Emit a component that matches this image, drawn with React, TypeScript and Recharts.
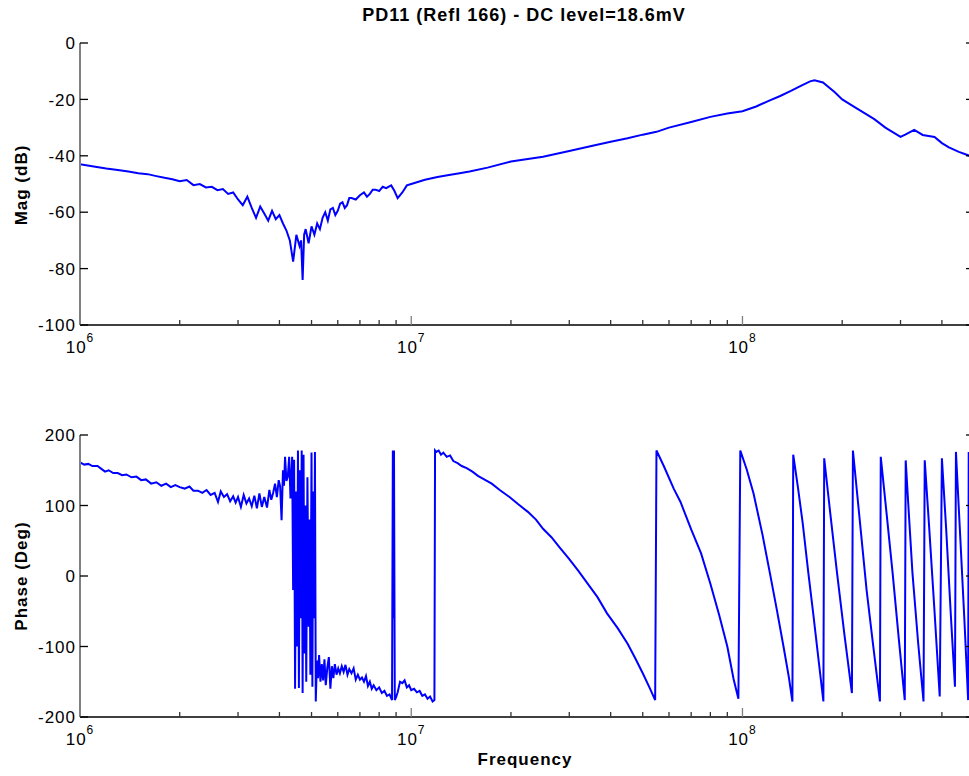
import React from 'react';
import { LineChart, Line, XAxis, YAxis } from 'recharts';

const FONT = '"Liberation Sans", Arial, Helvetica, sans-serif';

// magnitude trace (frequency in MHz, level in dB)
const magFreqMHz = [
  1.0, 1.1, 1.2, 1.3, 1.4, 1.5, 1.6, 1.7, 1.8, 1.9, 2.0, 2.1, 2.2, 2.3, 2.4, 2.5, 2.6, 2.7, 2.8, 2.9,
  3.0, 3.1, 3.2, 3.3, 3.4, 3.5, 3.6, 3.7, 3.8, 3.9, 4.0, 4.1, 4.2, 4.3, 4.4, 4.5, 4.6, 4.65, 4.7, 4.75,
  4.8, 4.9, 5.0, 5.1, 5.2, 5.3, 5.4, 5.5, 5.6, 5.7, 5.8, 5.9, 6.0, 6.1, 6.2, 6.3, 6.4, 6.5, 6.6, 6.8,
  7.0, 7.2, 7.35, 7.5, 7.65, 7.8, 8.0, 8.2, 8.4, 8.7, 8.9, 9.1, 9.4, 9.7, 10, 11, 12, 13, 14, 15,
  17, 20, 25, 30, 35, 40, 45, 50, 55, 60, 70, 80, 90, 100, 110, 120, 130, 140, 150, 160,
  165, 175, 190, 200, 220, 250, 270, 300, 310, 330, 350, 380, 400, 420, 450, 480, 500,
];
const magDb = [
  -43.0, -43.8, -44.5, -45.0, -45.6, -46.2, -46.5, -47.2, -47.8, -48.3, -49.0, -48.6, -50.4, -50.0, -51.2, -51.0, -52.2, -51.8, -53.5, -53.0,
  -55.5, -57.5, -54.5, -58.5, -62.0, -58.0, -60.5, -63.0, -59.5, -62.5, -61.0, -64.0, -66.5, -70.0, -77.5, -68.0, -72.0, -70.0, -84.0, -68.0,
  -66.0, -71.0, -65.0, -68.0, -64.0, -66.0, -62.0, -60.0, -63.0, -59.0, -58.5, -61.0, -59.5, -57.0, -56.5, -58.5, -57.5, -55.0, -55.0, -55.5,
  -54.0, -53.0, -54.5, -53.5, -52.0, -52.0, -52.5, -51.0, -51.5, -50.5, -52.5, -55.0, -53.0, -50.5, -50.0, -48.5, -47.5, -46.8, -46.2, -45.6,
  -44.2, -42.0, -40.3, -38.3, -36.5, -35.0, -33.8, -32.5, -31.5, -30.0, -28.0, -26.2, -25.0, -24.2, -22.5, -20.5, -18.8, -17.0, -15.2, -13.6,
  -13.2, -14.0, -17.5, -20.0, -23.0, -27.0, -30.0, -33.3, -32.5, -30.8, -32.6, -33.3, -35.5, -37.0, -38.6, -39.8, -41.0,
];

// phase trace (frequency in MHz, phase in degrees)
const phaseFreqMHz = [
  1.0, 1.03, 1.06, 1.09, 1.13, 1.16, 1.19, 1.22, 1.26, 1.3, 1.34, 1.38, 1.43, 1.48, 1.53, 1.58, 1.64, 1.7, 1.76, 1.82,
  1.88, 1.94, 2.0, 2.07, 2.14, 2.2, 2.27, 2.34, 2.41, 2.48, 2.55, 2.61, 2.66, 2.72, 2.78, 2.84, 2.9, 2.95, 3.0, 3.06,
  3.12, 3.18, 3.24, 3.3, 3.36, 3.42, 3.48, 3.54, 3.6, 3.67, 3.73, 3.78, 3.83, 3.88, 3.93, 3.98, 4.02, 4.06, 4.1, 4.13,
  4.16, 4.2, 4.24, 4.28, 4.32, 4.37, 4.4, 4.43, 4.46, 4.49, 4.52, 4.55, 4.58, 4.61, 4.64, 4.67, 4.7, 4.73, 4.76, 4.79,
  4.82, 4.86, 4.9, 4.93, 4.96, 5.0, 5.03, 5.06, 5.09, 5.12, 5.15, 5.19, 5.23, 5.27, 5.32, 5.37, 5.42, 5.47, 5.52, 5.58,
  5.64, 5.7, 5.76, 5.82, 5.88, 5.95, 6.02, 6.09, 6.17, 6.25, 6.33, 6.42, 6.5, 6.6, 6.7, 6.8, 6.9, 7.0, 7.1, 7.2,
  7.3, 7.4, 7.5, 7.6, 7.7, 7.85, 8.0, 8.15, 8.3, 8.45, 8.6, 8.75, 8.8, 8.84, 8.87, 8.92, 9.0, 9.1, 9.25, 9.4,
  9.55, 9.7, 9.85, 10.0, 10.2, 10.4, 10.6, 10.8, 11.0, 11.2, 11.4, 11.6, 11.75, 11.8, 11.9, 12.1, 12.3, 12.5, 12.8, 13.1,
  13.4, 13.8, 14.2, 14.7, 15.3, 15.9, 16.6, 17.5, 18.5, 19.8, 21.0, 22.5, 23.8, 25.0, 26.5, 28.0, 30.0, 32.0, 34.0, 36.5,
  39.0, 42.0, 45.0, 47.5, 50.0, 52.5, 54.5, 55.0, 58.0, 62.0, 65.0, 70.0, 75.0, 80.0, 85.0, 90.0, 94.0, 97.2, 98.5, 103,
  108, 115, 121, 127, 133, 138, 141.5, 142.3, 147, 152, 158, 163.5, 170, 175.5, 176.5, 184, 193, 203, 214, 215.5,
  226, 237, 248, 260, 261.5, 272, 284, 296, 309, 311, 318, 326, 339, 352, 355, 366, 380, 394, 400, 412,
  425, 438, 441, 455, 468, 480, 482, 500,
];
const phaseDeg = [
  161, 158, 159, 156, 156, 152, 148, 150, 146, 146, 143, 144, 140, 141, 136, 137, 131, 133, 128, 131,
  126, 129, 126, 124, 127, 121, 121, 118, 122, 115, 118, 105, 120, 112, 116, 106, 113, 104, 112, 98,
  115, 103, 110, 99, 114, 96, 117, 98, 112, 97, 122, 108, 118, 131, 112, 136, 127, 79, 150, 128,
  169, 135, 141, 169, 110, 169, -20, 165, -160, 120, -100, 178, -159, 150, -60, 178, -166, 172, -110, 100,
  -150, 140, -72, 80, -140, 175, -157, 120, -60, 176, -178, -120, -145, -112, -150, -125, -148, -118, -155, -130,
  -115, -160, -128, -145, -125, -140, -131, -138, -128, -136, -126, -140, -132, -138, -131, -147, -140, -147, -144, -150,
  -142, -156, -150, -160, -155, -162, -158, -166, -163, -170, -168, -176, 178, -60, 178, -176, -172, -165, -150, -152,
  -148, -158, -155, -162, -160, -165, -163, -170, -168, -174, -171, -178, -176, 178, 176, 178, 172, 175, 169, 171,
  163, 160, 156, 153, 148, 142, 137, 131, 122, 112, 102, 91, 80, 67, 55, 41, 24, 7, -10, -30,
  -53, -74, -96, -117, -138, -159, -176, 178, 155, 124, 105, 66, 32, -11, -55, -100, -146, -174, 178, 151,
  117, 58, 4, -48, -100, -143, -178, 172, 126, 75, 5, -53, -122, -178, 167, 90, 4, -82, -166, 178,
  79, -20, -98, -178, 169, 91, 4, -86, -176, 164, 87, 4, -94, -178, 164, 70, -50, -171, 167, 67,
  -50, -157, 176, 50, -65, -176, 176, 60,
];

const freqTicks = [
  1e6, 2e6, 3e6, 4e6, 5e6, 6e6, 7e6, 8e6, 9e6,
  1e7, 2e7, 3e7, 4e7, 5e7, 6e7, 7e7, 8e7, 9e7,
  1e8, 2e8, 3e8, 4e8, 5e8,
];
const magTicks = [0, -20, -40, -60, -80, -100];
const phaseTicks = [200, 100, 0, -100, -200];

const magRows = magFreqMHz.map((f, i) => ({ f: f * 1e6, v: magDb[i] }));
const phaseRows = phaseFreqMHz.map((f, i) => ({ f: f * 1e6, v: phaseDeg[i] }));

const isDecade = (v: number) => Math.abs(Math.log10(v) - Math.round(Math.log10(v))) < 1e-6;

const BottomTick = (props: any) => {
  const { x, y, payload } = props;
  const major = isDecade(payload.value);
  return (
    <g>
      <line x1={x} x2={x} y1={y} y2={y - (major ? 9 : 5)} stroke={major ? '#7f7f7f' : '#333'} strokeWidth={1.3} />
      {major && (
        <text x={x} y={y + 28} textAnchor="middle" fontFamily={FONT} fontSize={17} letterSpacing={1} fill="#000">
          10
          <tspan dy={-11} fontSize={12}>
            {Math.round(Math.log10(payload.value))}
          </tspan>
        </text>
      )}
    </g>
  );
};

const TopTick = (props: any) => {
  const { x, y, payload } = props;
  const major = isDecade(payload.value);
  return <line x1={x} x2={x} y1={y} y2={y + (major ? 9 : 5)} stroke={major ? '#7f7f7f' : '#333'} strokeWidth={1.3} />;
};

const LeftTick = (props: any) => {
  const { x, y, payload } = props;
  return (
    <g>
      <line x1={x} x2={x + 8} y1={y} y2={y} stroke="#000" strokeWidth={1.3} />
      <text x={x - 4} y={y} dy="0.36em" textAnchor="end" fontFamily={FONT} fontSize={17} letterSpacing={1} fill="#000">
        {payload.value}
      </text>
    </g>
  );
};

const RightTick = (props: any) => {
  const { x, y } = props;
  return <line x1={x - 8} x2={x} y1={y} y2={y} stroke="#000" strokeWidth={1.3} />;
};

const Panel = ({ rows, domain, ticks, top }: { rows: any[]; domain: number[]; ticks: number[]; top: number }) => (
  <div style={{ position: 'absolute', left: 0, top }}>
    <LineChart width={990} height={360} data={rows} margin={{ top: 43, right: 0, bottom: 0, left: 0 }}>
      <XAxis
        dataKey="f"
        type="number"
        scale="log"
        domain={[1e6, 5e8]}
        allowDataOverflow
        ticks={freqTicks}
        interval={0}
        height={35}
        tickSize={0}
        tickMargin={0}
        tickLine={false}
        tick={BottomTick}
        axisLine={{ stroke: '#000', strokeWidth: 1.5 }}
      />
      <XAxis
        xAxisId="top"
        orientation="top"
        dataKey="f"
        type="number"
        scale="log"
        domain={[1e6, 5e8]}
        allowDataOverflow
        ticks={freqTicks}
        interval={0}
        height={0}
        tickSize={0}
        tickMargin={0}
        tickLine={false}
        tick={TopTick}
        axisLine={{ stroke: '#000', strokeWidth: 1.5 }}
      />
      <YAxis
        yAxisId="l"
        type="number"
        domain={domain}
        allowDataOverflow
        ticks={ticks}
        interval={0}
        width={80}
        tickSize={0}
        tickMargin={0}
        tickLine={false}
        tick={LeftTick}
        axisLine={{ stroke: '#808080', strokeWidth: 2 }}
      />
      <YAxis
        yAxisId="r"
        orientation="right"
        type="number"
        domain={domain}
        allowDataOverflow
        ticks={ticks}
        interval={0}
        width={16}
        tickSize={0}
        tickMargin={0}
        tickLine={false}
        tick={RightTick}
        axisLine={{ stroke: '#000', strokeWidth: 1.5 }}
      />
      <Line
        yAxisId="l"
        type="linear"
        dataKey="v"
        stroke="#0000ff"
        strokeWidth={2}
        dot={false}
        activeDot={false}
        isAnimationActive={false}
      />
    </LineChart>
  </div>
);

const labelStyle: React.CSSProperties = {
  position: 'absolute',
  fontFamily: FONT,
  fontWeight: 'bold',
  fontSize: 17,
  letterSpacing: 1,
  lineHeight: '20px',
  textAlign: 'center',
  color: '#000',
  whiteSpace: 'nowrap',
};

export default function App() {
  return (
    <div style={{ position: 'absolute', left: 0, top: 0, width: 969, height: 776, overflow: 'hidden', background: '#fff' }}>
      <Panel rows={magRows} domain={[-100, 0]} ticks={magTicks} top={0} />
      <Panel rows={phaseRows} domain={[-200, 200]} ticks={phaseTicks} top={392} />
      <div style={{ ...labelStyle, left: 274, top: 5, width: 500, fontSize: 18, letterSpacing: 1 }}>
        PD11 (Refl 166) - DC level=18.6mV
      </div>
      <div style={{ ...labelStyle, left: 275, top: 750, width: 500 }}>Frequency</div>
      <div style={{ ...labelStyle, left: -78, top: 175, width: 200, height: 20, transform: 'rotate(-90deg)' }}>Mag (dB)</div>
      <div style={{ ...labelStyle, left: -78, top: 566, width: 200, height: 20, transform: 'rotate(-90deg)' }}>Phase (Deg)</div>
    </div>
  );
}
